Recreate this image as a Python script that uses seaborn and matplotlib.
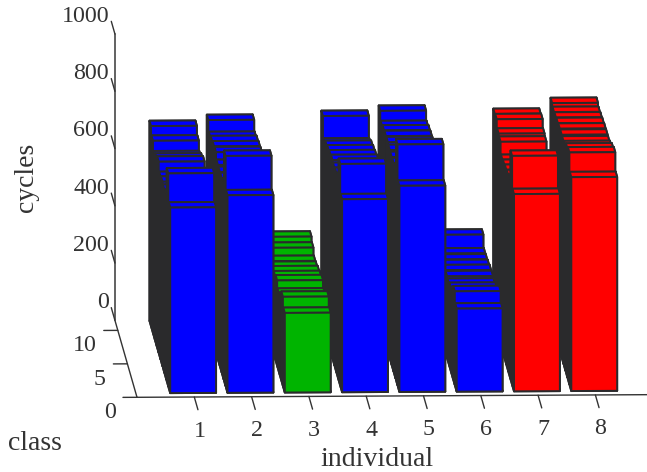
import matplotlib
matplotlib.use('Agg')
import matplotlib.pyplot as plt
import numpy as np
import seaborn as sns
from mpl_toolkits.mplot3d import proj3d

# cycles per individual, one value per class row (class 1 is the front row)
ind1 = [648, 744, 645, 640, 645, 638, 668, 655, 640, 671, 699]
ind2 = [690, 804, 683, 680, 678, 679, 700, 697, 692, 683, 719]
ind3 = [278, 311, 284, 275, 298, 289, 283, 275, 272, 295, 310]
ind4 = [674, 774, 701, 696, 690, 694, 687, 681, 673, 658, 731]
ind5 = [720, 841, 728, 729, 727, 728, 732, 730, 726, 718, 748]
ind6 = [290, 327, 301, 292, 283, 286, 284, 278, 274, 272, 314]
ind7 = [689, 799, 692, 685, 680, 674, 668, 708, 713, 740, 735]
ind8 = [747, 810, 800, 785, 778, 778, 776, 772, 768, 764, 772]
heights = np.array([ind1, ind2, ind3, ind4, ind5, ind6, ind7, ind8])

groups = ['blue', 'blue', 'green', 'blue', 'blue', 'blue', 'red', 'red']
individual_ticks = [1, 2, 3, 4, 5, 6, 7, 8]
class_ticks = [0, 5, 10]
cycle_ticks = [0, 200, 400, 600, 800, 1000]

sns.set_style('white')
plt.rcParams['font.family'] = ['Liberation Serif', 'DejaVu Serif']

palette = dict(zip(['blue', 'green', 'red'], sns.color_palette(['#0000ff', '#00b400', '#ff0000'])))
side = '#2a2a2c'
ink = '#333333'

W, H = 647, 472
XMAX, YMAX, ZMAX = 8.9, 11.5, 1000
BOX = (XMAX * 57.36, YMAX * 50.0, ZMAX * 0.289)

fig = plt.figure(figsize=(W / 100, H / 100), dpi=100)
ax = fig.add_axes([-0.5, -0.5, 2, 2], projection='3d', proj_type='ortho', computed_zorder=False)
ax.view_init(elev=7.7, azim=-92.2)
ax.set_axis_off()

# back row first so the nearer rows paint over it
n_rows = heights.shape[1]
for row in range(n_rows, 0, -1):
    for i, ind in enumerate(individual_ticks):
        c = palette[groups[i]]
        # faces: -z, +z, -y, +y, -x, +x
        faces = [side, c, c, side, side, side]
        ax.bar3d(ind - 0.4, row - 0.4, 0, 0.8, 0.8, heights[i, row - 1], color=faces,
                 shade=False, edgecolor=side, linewidth=1.4, zorder=20 - row)

# axis lines and ticks
line = dict(color=ink, lw=1.0, zorder=1)
ax.plot([0, XMAX], [0, 0], [0, 0], **line)
ax.plot([0, 0], [0, YMAX], [0, 0], **line)
ax.plot([0, 0], [YMAX, YMAX], [0, ZMAX], color='#555555', lw=1.3, zorder=1)
for ind in individual_ticks:
    ax.plot([ind, ind], [0, -1.9], [0, 0], **line)
for cl in class_ticks:
    ax.plot([0, -0.245], [cl, cl], [0, 0], **line)
for cy in cycle_ticks:
    ax.plot([0, 0], [YMAX, YMAX + 1.9], [cy, cy], **line)

ax.set_xlim(0, XMAX, view_margin=0)
ax.set_ylim(0, YMAX, view_margin=0)
ax.set_zlim(0, ZMAX, view_margin=0)


def to_px(x, y, z):
    px, py, _ = proj3d.proj_transform(x, y, z, ax.get_proj())
    return ax.transData.transform((px, py))


# fit the scale and place the origin where the axes corner belongs
ax.set_box_aspect(BOX, zoom=1)
fig.canvas.draw()
scale = np.hypot(*(to_px(8, 0, 0) - to_px(0, 0, 0))) / 8
ax.set_box_aspect(BOX, zoom=57.3 / scale)
fig.canvas.draw()
shift = np.array([137, H - 397.3]) - to_px(0, 0, 0)
ax.set_position([-0.5 + shift[0] / W, -0.5 + shift[1] / H, 2, 2])
fig.canvas.draw()


def tick_label(x, y, z, s, ha):
    px, py = to_px(x, y, z)
    fig.text(px / W, py / H, s, ha=ha, va='center', fontsize=17.3, color=ink)


for ind in individual_ticks:
    tick_label(ind + 0.09, 0, -119, str(ind), 'center')
for cl in class_ticks:
    tick_label(-0.375, cl, -54, str(cl), 'right')
for cy in cycle_ticks:
    tick_label(-0.1, YMAX, cy + 62, str(cy), 'right')

fig.text(27 / W, 1 - 177 / H, 'cycles', rotation=90, ha='center', va='center', fontsize=20, color=ink)
fig.text(34.5 / W, 1 - 443 / H, 'class', ha='center', va='center', fontsize=20, color=ink)
fig.text(377 / W, 1 - 459 / H, 'individual', ha='center', va='center', fontsize=20, color=ink)

fig.savefig('out.png', dpi=100)
